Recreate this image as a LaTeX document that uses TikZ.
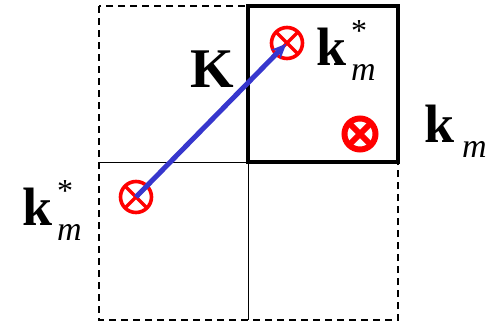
\documentclass[tikz,border=0pt]{standalone}
\usepackage{fontspec}
\setmainfont{Liberation Serif}
\usetikzlibrary{arrows.meta,positioning}
\definecolor{ArrowBlue}{RGB}{55,55,205}
\definecolor{MarkRed}{RGB}{255,0,0}
\newcommand{\kvec}{{\fontsize{54}{56}\selectfont\bfseries k}}
\newcommand{\kstarm}{\kvec\kern5pt\rlap{\fontsize{32}{34}\selectfont\raisebox{24pt}{*}}\raisebox{-15pt}{\fontsize{34}{36}\selectfont\itshape m}}
\newcommand{\kplainm}{\kvec\kern8pt\raisebox{-15pt}{\fontsize{34}{36}\selectfont\itshape m}}

\begin{document}
\begin{tikzpicture}[x=1pt,y=-1pt,
        outer/.style={draw,line width=1.8pt,dash pattern=on 7pt off 5pt},
        inner/.style={draw,line width=0.8pt},
        cellbox/.style={draw,line width=3.2pt},
        mk/.style={circle,draw=MarkRed,line width=3.6pt,minimum size=31pt,inner sep=0pt,
                   path picture={\draw[MarkRed,line width=#1]
                     (path picture bounding box.north west)--(path picture bounding box.south east)
                     (path picture bounding box.north east)--(path picture bounding box.south west);}},
        mk/.default=3.2pt,
        mkbold/.style={mk=6pt,line width=6pt,minimum size=31pt},
        arr/.style={-{Stealth[length=15pt,width=13pt]},ArrowBlue,line width=5pt,shorten >=1pt},
        lbl/.style={inner sep=0pt,anchor=base west}
      ]
        \useasboundingbox (0,0) rectangle (495,324);
        % cells of the grid
        \draw[outer] (99,6) rectangle (398,320);
        \draw[inner] (99,162) -- (248,162);
        \draw[inner] (248,162) -- (248,320);
        \draw[cellbox] (248,6) rectangle (398,162);
        % points
        \node[mk] (pA) at (136,197) {};
        \node[mk] (pB) at (287,43) {};
        \node[mkbold] (pC) at (360,134) {};
        \draw[arr] (pA.center) -- (pB.center);
        % labels
        \node[font=\fontsize{56}{58}\selectfont\bfseries,lbl] (K) at (190,87) {K};
        \node[lbl] (kUp) at (316,65) {\kstarm};
        \node[lbl] (kRt) at (424,142) {\kplainm};
        \node[lbl] (kLt) at (22,225) {\kstarm};
      \end{tikzpicture}
\end{document}
